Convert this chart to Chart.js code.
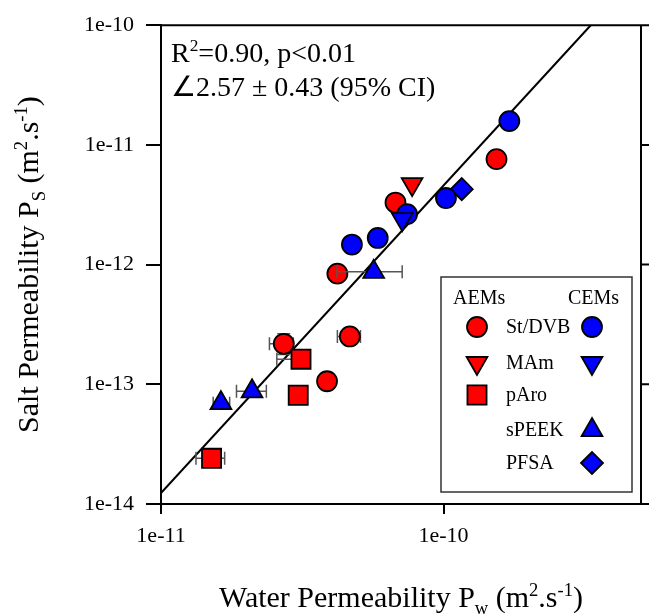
<!DOCTYPE html>
<html><head><meta charset="utf-8">
<script src="https://cdn.jsdelivr.net/npm/chart.js@4/dist/chart.umd.min.js"></script>
<style>html,body{margin:0;padding:0;background:#fff;}#wrap{width:649px;height:616px;}</style>
</head><body><div id="wrap"><canvas id="c" width="649" height="616"></canvas></div>
<script>
// ---------------- data ----------------
const xTickValues = [1e-11, 1e-10];
const xTickLabels = ['1e-11', '1e-10'];
const yTickValues = [1e-14, 1e-13, 1e-12, 1e-11, 1e-10];
const yTickLabels = ['1e-14', '1e-13', '1e-12', '1e-11', '1e-10'];

// AEM St/DVB (red circles)
const aemStDvbPw   = [4.21e-11, 2.72e-11, 4.66e-11, 3.87e-11, 6.76e-11, 1.54e-10];
const aemStDvbPs   = [8.4e-13, 2.18e-13, 2.51e-13, 1.06e-13, 3.30e-12, 7.6e-12];
const aemStDvbPwLo = [null, 2.42e-11, 4.21e-11, null, null, null];
const aemStDvbPwHi = [null, 2.94e-11, 5.08e-11, null, null, null];
const aemStDvbPsLo = [null, 1.77e-13, null, null, null, null];
const aemStDvbPsHi = [null, 2.65e-13, null, null, null, null];
// AEM MAm (red down triangles)
const aemMAmPw = [7.74e-11];
const aemMAmPs = [4.7e-12];
// AEM pAro (red squares)
const aemPAroPw   = [1.51e-11, 3.13e-11, 3.06e-11];
const aemPAroPs   = [2.41e-14, 1.62e-13, 8.1e-14];
const aemPAroPwLo = [1.33e-11, 2.57e-11, null];
const aemPAroPwHi = [1.68e-11, 3.35e-11, null];
// CEM St/DVB (blue circles)
const cemStDvbPw = [4.74e-11, 5.85e-11, 7.43e-11, 1.02e-10, 1.71e-10];
const cemStDvbPs = [1.47e-12, 1.67e-12, 2.64e-12, 3.6e-12, 1.58e-11];
// CEM MAm (blue down triangles)
const cemMAmPw = [7.14e-11];
const cemMAmPs = [2.40e-12];
// CEM sPEEK (blue up triangles)
const cemSPeekPw   = [5.66e-11, 2.10e-11, 1.63e-11];
const cemSPeekPs   = [8.7e-13, 8.74e-14, 6.96e-14];
const cemSPeekPwLo = [4.20e-11, 1.85e-11, 1.53e-11];
const cemSPeekPwHi = [7.14e-11, 2.36e-11, 1.75e-11];
// CEM PFSA (blue diamonds)
const cemPfsaPw = [1.16e-10];
const cemPfsaPs = [4.27e-12];
// regression line (log-log fit, slope 2.57)
const regPw = [1e-11, 3.32e-10];
const regPs = [1.236e-14, 1e-10];

const FONT = 'Liberation Serif, Times New Roman, serif';
const RED = '#ff0000', BLUE = '#0000ff';

function pts(xs, ys) { return xs.map((x, i) => ({x: x, y: ys[i]})); }
function errs(xLo, xHi, yLo, yHi, n) {
  const out = [];
  for (let i = 0; i < n; i++) {
    out.push({
      xLo: xLo ? xLo[i] : null, xHi: xHi ? xHi[i] : null,
      yLo: yLo ? yLo[i] : null, yHi: yHi ? yHi[i] : null
    });
  }
  return out;
}
function markerDs(label, xs, ys, color, style, radius, rotation, err) {
  return {
    label: label, data: pts(xs, ys), backgroundColor: color, borderColor: '#000',
    borderWidth: 1.8, pointStyle: style, pointRadius: radius, pointHoverRadius: radius,
    rotation: rotation, err: err, showLine: false
  };
}

// ---------------- plugins ----------------
const errorBars = {
  id: 'errorBars',
  beforeDatasetDraw(chart, args) {
    const ds = chart.data.datasets[args.index];
    if (!ds.err) return;
    const xs = chart.scales.x, ys = chart.scales.y, ctx = chart.ctx;
    const cap = 6.5;
    ctx.save();
    ctx.strokeStyle = '#555';
    ctx.lineWidth = 1.5;
    ds.data.forEach((p, i) => {
      const e = ds.err[i];
      if (!e) return;
      const px = xs.getPixelForValue(p.x), py = ys.getPixelForValue(p.y);
      ctx.beginPath();
      if (e.xLo != null && e.xHi != null) {
        const a = xs.getPixelForValue(e.xLo), b = xs.getPixelForValue(e.xHi);
        ctx.moveTo(a, py); ctx.lineTo(b, py);
        ctx.moveTo(a, py - cap); ctx.lineTo(a, py + cap);
        ctx.moveTo(b, py - cap); ctx.lineTo(b, py + cap);
      }
      if (e.yLo != null && e.yHi != null) {
        const a = ys.getPixelForValue(e.yLo), b = ys.getPixelForValue(e.yHi);
        ctx.moveTo(px, a); ctx.lineTo(px, b);
        ctx.moveTo(px - cap, a); ctx.lineTo(px + cap, a);
        ctx.moveTo(px - cap, b); ctx.lineTo(px + cap, b);
      }
      ctx.stroke();
    });
    ctx.restore();
  }
};

function richWidth(ctx, segs, size) {
  let w = 0;
  segs.forEach(s => {
    const fs = (s.sup || s.sub) ? size * 0.62 : size;
    ctx.font = fs + 'px ' + FONT;
    w += ctx.measureText(s.t).width;
  });
  return w;
}
function drawRich(ctx, segs, x, y, size) {
  let cx = x;
  segs.forEach(s => {
    const fs = (s.sup || s.sub) ? size * 0.62 : size;
    ctx.font = fs + 'px ' + FONT;
    const dy = s.sup ? -size * 0.38 : (s.sub ? size * 0.22 : 0);
    ctx.fillText(s.t, cx, y + dy);
    cx += ctx.measureText(s.t).width;
  });
}

const xTitleSegs = [{t: 'Water Permeability P'}, {t: 'w', sub: true}, {t: ' (m'}, {t: '2', sup: true}, {t: '.s'}, {t: '-1', sup: true}, {t: ')'}];
const yTitleSegs = [{t: 'Salt Permeability P'}, {t: 'S', sub: true}, {t: ' (m'}, {t: '2', sup: true}, {t: '.s'}, {t: '-1', sup: true}, {t: ')'}];
const statLine1 = [{t: 'R'}, {t: '2', sup: true}, {t: '=0.90, p<0.01'}];
const statLine2 = [{t: '\u22202.57 \u00b1 0.43 (95% CI)'}];

const legendRows = [
  {name: 'St/DVB', aem: {style: 'circle', r: 10, rot: 0}, cem: {style: 'circle', r: 10, rot: 0}},
  {name: 'MAm', aem: {style: 'triangle', r: 12, rot: 180}, cem: {style: 'triangle', r: 12, rot: 180}},
  {name: 'pAro', aem: {style: 'rect', r: 13.5, rot: 0}, cem: null},
  {name: 'sPEEK', aem: null, cem: {style: 'triangle', r: 12, rot: 0}},
  {name: 'PFSA', aem: null, cem: {style: 'rectRot', r: 11, rot: 0}}
];

const decor = {
  id: 'decor',
  afterDraw(chart) {
    const ctx = chart.ctx, a = chart.chartArea, ys = chart.scales.y;
    ctx.save();
    // top and right frame lines, right-side ticks
    ctx.strokeStyle = '#000';
    ctx.lineWidth = 2;
    ctx.beginPath();
    ctx.moveTo(a.left - 1, a.top);
    ctx.lineTo(a.right, a.top);
    ctx.moveTo(a.right, a.top - 1);
    ctx.lineTo(a.right, a.bottom + 1);
    yTickValues.forEach(v => {
      const py = ys.getPixelForValue(v);
      ctx.moveTo(a.right, py);
      ctx.lineTo(a.right + 8, py);
    });
    ctx.stroke();

    ctx.fillStyle = '#000';
    ctx.textBaseline = 'alphabetic';
    // stats text
    ctx.textAlign = 'left';
    drawRich(ctx, statLine1, a.left + 10, 62, 28);
    drawRich(ctx, statLine2, a.left + 10, 96, 28);

    // x title
    const xs = 30;
    const wx = richWidth(ctx, xTitleSegs, xs);
    drawRich(ctx, xTitleSegs, (a.left + a.right) / 2 - wx / 2, 607, xs);
    // y title
    const wy = richWidth(ctx, yTitleSegs, xs);
    ctx.save();
    ctx.translate(38, (a.top + a.bottom) / 2);
    ctx.rotate(-Math.PI / 2);
    drawRich(ctx, yTitleSegs, -wy / 2, 0, xs);
    ctx.restore();

    // legend
    const lx0 = 441, ly0 = 277, lx1 = 632, ly1 = 492;
    ctx.strokeStyle = '#333';
    ctx.lineWidth = 1.5;
    ctx.strokeRect(lx0, ly0, lx1 - lx0, ly1 - ly0);
    ctx.font = '20px ' + FONT;
    ctx.textBaseline = 'middle';
    ctx.fillStyle = '#000';
    ctx.textAlign = 'left';
    ctx.fillText('AEMs', 453, 299);
    ctx.textAlign = 'right';
    ctx.fillText('CEMs', 619, 299);
    ctx.textAlign = 'left';
    const rowY = [327, 363, 395, 430, 463];
    legendRows.forEach((r, i) => {
      const y = rowY[i];
      ctx.fillStyle = '#000';
      ctx.fillText(r.name, 506, y + 1);
      ctx.lineWidth = 1.8;
      ctx.strokeStyle = '#000';
      if (r.aem) {
        ctx.fillStyle = RED;
        Chart.helpers.drawPoint(ctx, {pointStyle: r.aem.style, radius: r.aem.r, rotation: r.aem.rot, borderWidth: 1.8}, 477, y);
      }
      if (r.cem) {
        ctx.fillStyle = BLUE;
        Chart.helpers.drawPoint(ctx, {pointStyle: r.cem.style, radius: r.cem.r, rotation: r.cem.rot, borderWidth: 1.8}, 592, y);
      }
    });
    ctx.restore();
  }
};

// ---------------- chart ----------------
const tickFont = {family: FONT, size: 22};
function logAxis(pos, min, max, tickVals, tickLbls, len, pad) {
  return {
    type: 'logarithmic', position: pos, min: min, max: max,
    afterBuildTicks: s => { s.ticks = tickVals.map(v => ({value: v})); },
    ticks: {
      autoSkip: false, maxRotation: 0, color: '#000', font: tickFont, padding: pad,
      callback: (v, i) => tickLbls[i]
    },
    grid: {drawOnChartArea: false, drawTicks: true, tickLength: len, color: '#000', lineWidth: 2},
    border: {display: true, color: '#000', width: 2}
  };
}
const xAxis = logAxis('bottom', 1e-11, 5e-10, xTickValues, xTickLabels, 10, 9);
xAxis.afterFit = s => { s.height = 112; s.paddingRight = 0; s.paddingLeft = 0; };
const yAxis = logAxis('left', 1e-14, 1e-10, yTickValues, yTickLabels, 15, 12);
yAxis.afterFit = s => { s.width = 161; };

new Chart(document.getElementById('c'), {
  type: 'scatter',
  data: {
    datasets: [
      markerDs('CEM sPEEK', cemSPeekPw, cemSPeekPs, BLUE, 'triangle', 12, 0, errs(cemSPeekPwLo, cemSPeekPwHi, null, null, cemSPeekPw.length)),
      markerDs('CEM MAm', cemMAmPw, cemMAmPs, BLUE, 'triangle', 12, 180, null),
      markerDs('CEM St/DVB', cemStDvbPw, cemStDvbPs, BLUE, 'circle', 10, 0, null),
      markerDs('CEM PFSA', cemPfsaPw, cemPfsaPs, BLUE, 'rectRot', 11, 0, null),
      markerDs('AEM MAm', aemMAmPw, aemMAmPs, RED, 'triangle', 12, 180, null),
      markerDs('AEM pAro', aemPAroPw, aemPAroPs, RED, 'rect', 13.5, 0, errs(aemPAroPwLo, aemPAroPwHi, null, null, aemPAroPw.length)),
      markerDs('AEM St/DVB', aemStDvbPw, aemStDvbPs, RED, 'circle', 10, 0, errs(aemStDvbPwLo, aemStDvbPwHi, aemStDvbPsLo, aemStDvbPsHi, aemStDvbPw.length)),
      {type: 'line', label: 'fit', data: pts(regPw, regPs), showLine: true, borderColor: '#000', borderWidth: 2, pointRadius: 0, fill: false, tension: 0}
    ]
  },
  options: {
    responsive: false, animation: false, devicePixelRatio: 1,
    layout: {autoPadding: false, padding: {top: 24, left: 0, right: 8, bottom: 0}},
    plugins: {legend: {display: false}, tooltip: {enabled: false}},
    scales: {x: xAxis, y: yAxis}
  },
  plugins: [errorBars, decor]
});
</script>
</body></html>
